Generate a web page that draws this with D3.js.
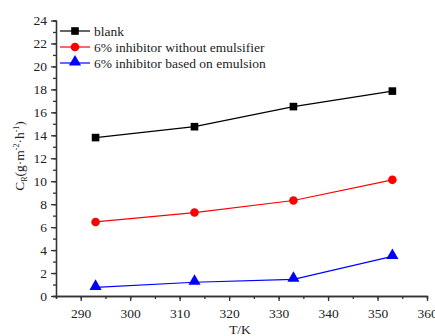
<!DOCTYPE html>
<html><head><meta charset="utf-8">
<script src="https://cdn.jsdelivr.net/npm/d3@7"></script>
<style>body{margin:0;background:#fff}svg{display:block}</style>
</head><body><svg id="c" width="435" height="336"></svg>
<script>
const temps = [293, 313, 333, 353];
const blank = [13.8, 14.75, 16.5, 17.85];
const noEmulsifier = [6.45, 7.27, 8.32, 10.12];
const emulsion = [0.75, 1.2, 1.45, 3.45];
const seriesNames = ["blank", "6% inhibitor without emulsifier", "6% inhibitor based on emulsion"];
const seriesColors = ["#000000", "#ff0000", "#0000ff"];
const seriesShapes = [d3.symbolSquare, d3.symbolCircle, d3.symbolTriangle];
const xTicks = [290, 300, 310, 320, 330, 340, 350, 360];
const yTicks = [0, 2, 4, 6, 8, 10, 12, 14, 16, 18, 20, 22, 24];

const FONT = '"Liberation Serif"';
const svg = d3.select("#c");
const x = d3.scaleLinear().domain([285, 360]).range([56, 427]);
const y = d3.scaleLinear().domain([0, 24]).range([296, 20.5]);

const axisColor = "#333";
const gx = svg.append("g").attr("transform", `translate(0,${y(0)})`);
gx.call(d3.axisBottom(x).tickValues(d3.range(285, 361, 5)).tickSize(3).tickFormat(""));
const gx2 = svg.append("g").attr("transform", `translate(0,${y(0)})`);
gx2.call(d3.axisBottom(x).tickValues(xTicks).tickSize(5).tickSizeOuter(0).tickFormat(d3.format("d")));
const gy = svg.append("g").attr("transform", `translate(${x(285)},0)`);
gy.call(d3.axisLeft(y).tickValues(d3.range(0, 25, 1)).tickSize(3).tickFormat(""));
const gy2 = svg.append("g").attr("transform", `translate(${x(285)},0)`);
gy2.call(d3.axisLeft(y).tickValues(yTicks).tickSize(5).tickSizeOuter(0).tickFormat(d3.format("d")));
[gx, gx2, gy, gy2].forEach(g => {
  g.selectAll("path,line").attr("stroke", axisColor).attr("stroke-width", 1.3);
  g.selectAll("text").attr("fill", "#222").style("font-family", FONT).style("font-size", "13.5px");
});
gx2.selectAll("text").attr("dy", "1.05em");
gy2.selectAll("text").attr("dx", "-1px");

const data = [blank, noEmulsifier, emulsion];
const line = d3.line().x((d, i) => x(temps[i])).y(d => y(d));
data.forEach((vals, k) => {
  svg.append("path").datum(vals).attr("d", line).attr("fill", "none")
    .attr("stroke", seriesColors[k]).attr("stroke-width", 1.2);
  svg.selectAll(null).data(vals).enter().append("path")
    .attr("d", d3.symbol().type(seriesShapes[k]).size(k === 2 ? 64 : 58))
    .attr("transform", (d, i) => `translate(${x(temps[i])},${y(d) - (k === 2 ? 1 : 0)})`)
    .attr("fill", seriesColors[k]);
});

const legY = [31, 47, 63];
seriesNames.forEach((name, k) => {
  const g = svg.append("g");
  g.append("line").attr("x1", 60).attr("x2", 90).attr("y1", legY[k]).attr("y2", legY[k])
    .attr("stroke", seriesColors[k]).attr("stroke-width", 1.2);
  g.append("path").attr("d", d3.symbol().type(seriesShapes[k]).size(k === 2 ? 64 : 58))
    .attr("transform", `translate(75,${legY[k] - (k === 2 ? 1 : 0)})`).attr("fill", seriesColors[k]);
  g.append("text").attr("x", 94).attr("y", legY[k] + 4.5).text(name)
    .style("font-family", FONT).style("font-size", "13.5px").attr("fill", "#222");
});

svg.append("text").attr("x", 240).attr("y", 334).attr("text-anchor", "middle")
  .style("font-family", FONT).style("font-size", "13.5px").attr("fill", "#222").text("T/K");
const yl = svg.append("text").attr("transform", "translate(24,156) rotate(-90)")
  .attr("text-anchor", "middle").style("font-family", FONT).style("font-size", "13.5px").attr("fill", "#222");
yl.append("tspan").text("C");
yl.append("tspan").attr("dy", 3).style("font-size", "8px").text("R");
yl.append("tspan").attr("dy", -3).text("(g·m");
yl.append("tspan").attr("dy", -5).style("font-size", "8px").text("-2");
yl.append("tspan").attr("dy", 5).text("·h");
yl.append("tspan").attr("dy", -5).style("font-size", "8px").text("-1");
yl.append("tspan").attr("dy", 5).text(")");
</script></body></html>
